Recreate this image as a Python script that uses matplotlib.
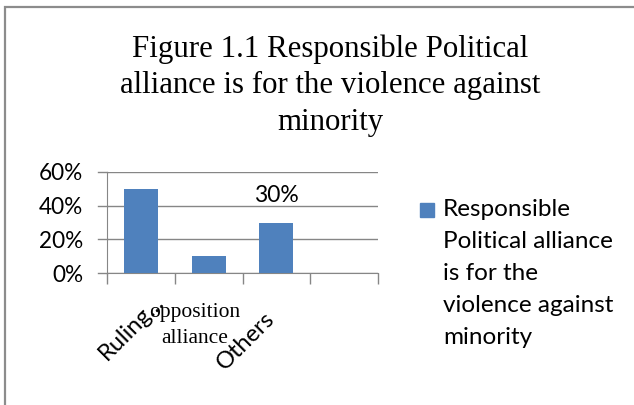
import matplotlib
matplotlib.use("Agg")
import matplotlib.pyplot as plt
from matplotlib.patches import Rectangle
from matplotlib.ticker import FixedLocator, PercentFormatter
import matplotlib.transforms as mtransforms

categories = ["Ruling…", "opposition\nalliance", "Others", ""]
values = [0.50, 0.10, 0.30]
yticks = [0.0, 0.2, 0.4, 0.6]
title = "Figure 1.1 Responsible Political\nalliance is for the violence against\nminority"
legend_text = "Responsible\nPolitical alliance\nis for the\nviolence against\nminority"

bar_color = "#4F81BD"
grid_color = "#868686"

fig = plt.figure(figsize=(6.34, 4.05), dpi=100)

# outer chart frame (only left and top edges fall inside the image)
fig.patches.append(Rectangle((5 / 634, -0.1), 1.2, 1 - 7 / 405 + 0.1,
                             transform=fig.transFigure, fill=False,
                             edgecolor="#8c8c8c", linewidth=1.6))

ax = fig.add_axes([107 / 634, 1 - 273 / 405, (378 - 107) / 634, (273 - 172) / 405])
x = range(len(values))
ax.bar(x, values, width=0.5, color=bar_color, zorder=3)
ax.set_xlim(-0.5, len(categories) - 0.5)
ax.set_ylim(0, 0.6)

ax.yaxis.set_major_locator(FixedLocator(yticks))
ax.yaxis.set_major_formatter(PercentFormatter(1.0, decimals=0))
ax.grid(axis="y", color=grid_color, linewidth=1.0, zorder=0)
ax.tick_params(axis="y", length=0, pad=17, labelsize=16.3)
for lab in ax.get_yticklabels():
    lab.set_fontfamily("Lato")

# gridlines stick out left of the axis like outward ticks
for v in yticks:
    ax.plot([-0.5 - 9 / 67.75, -0.5], [v, v], color=grid_color, lw=1.0,
            clip_on=False, zorder=2)

for s in ["top", "right"]:
    ax.spines[s].set_visible(False)
ax.spines["left"].set_color(grid_color)
ax.spines["bottom"].set_color(grid_color)

# category boundaries as downward ticks
ax.set_xticks([i - 0.5 for i in range(len(categories) + 1)])
ax.set_xticklabels([])
ax.tick_params(axis="x", direction="out", length=8, color=grid_color, width=1.0)

# category labels
trans = mtransforms.blended_transform_factory(ax.transData, ax.transAxes)
ax.text(0.18, -0.18, categories[0], transform=trans, rotation=45,
        rotation_mode="anchor", ha="right", va="top", fontsize=17,
        family="Lato")
ax.text(0.79, -0.30, categories[1], transform=trans, ha="center", va="top",
        fontsize=15.5, family="Liberation Serif", linespacing=1.45)
ax.text(1.81, -0.35, categories[2], transform=trans, rotation=45,
        rotation_mode="anchor", ha="right", va="top", fontsize=17,
        family="Lato")

# data label
ax.text(2, values[2] + 0.163, f"{values[2]:.0%}", ha="center", va="center",
        fontsize=16.5, family="Lato", zorder=4)

fig.text(330 / 634, 1 - 34 / 405, title, ha="center", va="top",
         fontsize=22.2, family="Liberation Serif", linespacing=1.35)

# legend
fig.patches.append(Rectangle((420 / 634, 1 - 217 / 405), 14 / 634, 14 / 405,
                             transform=fig.transFigure, color=bar_color))
fig.text(443 / 634, 1 - 199 / 405, legend_text, ha="left", va="top",
         fontsize=17.5, family="Lato", linespacing=1.64)

fig.savefig("out.png", dpi=100)
